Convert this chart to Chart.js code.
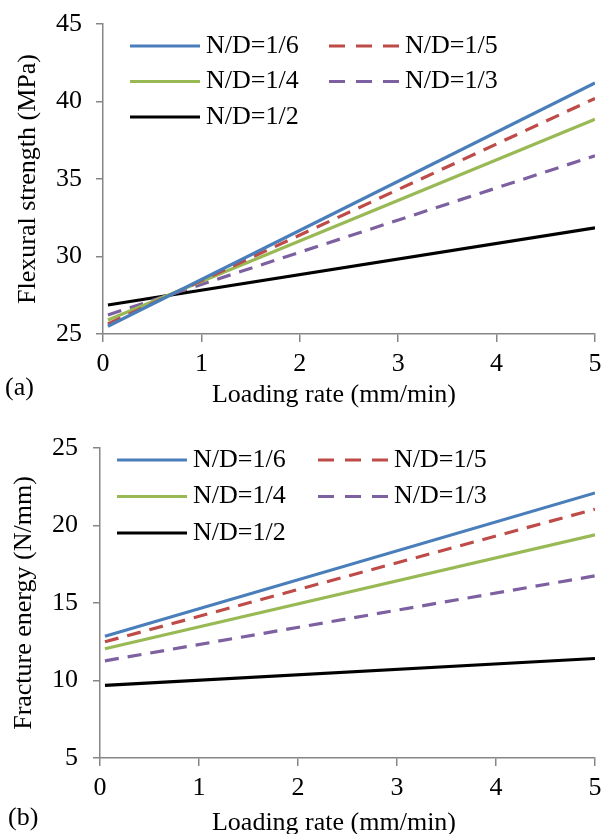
<!DOCTYPE html>
<html>
<head>
<meta charset="utf-8">
<script src="https://cdn.jsdelivr.net/npm/chart.js@4.4.1/dist/chart.umd.min.js"></script>
<style>
  body { margin: 0; background: #fff; width: 601px; height: 834px; overflow: hidden; position: relative; }
  .panel { position: absolute; left: 0; width: 601px; height: 425px; }
</style>
</head>
<body>
<div class="panel" style="top:0"><canvas id="chartA" width="601" height="425"></canvas></div>
<div class="panel" style="top:425px"><canvas id="chartB" width="601" height="425"></canvas></div>
<script>
// datos (rectas de ajuste, inicio y fin)
const loadingRate = [0.05, 5];
const seriesNames = ['N/D=1/6', 'N/D=1/5', 'N/D=1/4', 'N/D=1/3', 'N/D=1/2'];

// (a) resistencia a flexion, MPa
const strength16 = [25.5, 41.2];
const strength15 = [25.65, 40.2];
const strength14 = [25.9, 38.85];
const strength13 = [26.23, 36.5];
const strength12 = [26.87, 31.85];

// (b) energia de fractura, N/mm
const energy16 = [12.85, 22.1];
const energy15 = [12.5, 21.05];
const energy14 = [12.05, 19.4];
const energy13 = [11.27, 16.75];
const energy12 = [9.68, 11.42];

const xTicks = [0, 1, 2, 3, 4, 5];
const xTitulo = 'Loading rate (mm/min)';

const colores = ['#4A7EBB', '#BE4B48', '#98B954', '#7D60A0', '#000000'];
const dashed = [false, true, false, true, false];
const fuente = '"Liberation Serif", "Times New Roman", serif';
const gris = '#868686';

Chart.defaults.font.family = fuente;
Chart.defaults.color = '#000';

function armarDatasets(valores) {
  return valores.map((serie, i) => ({
    label: seriesNames[i],
    data: loadingRate.map((x, j) => ({ x: x, y: serie[j] })),
    borderColor: colores[i],
    borderWidth: 3.2,
    borderDash: dashed[i] ? [14, 9] : [],
    pointRadius: 0,
    tension: 0,
    fill: false
  }));
}

// leyenda dentro del area, titulo del eje x y etiqueta (a)/(b)
const leyendaPlugin = {
  id: 'ndLegend',
  afterDraw(chart, args, opts) {
    const ctx = chart.ctx;
    ctx.save();
    ctx.font = '26px ' + fuente;
    ctx.textBaseline = 'middle';
    ctx.fillStyle = '#000';
    chart.data.datasets.forEach((ds, i) => {
      const col = i % 2;
      const row = Math.floor(i / 2);
      const x0 = opts.cols[col];
      const y = opts.top + row * opts.gap;
      ctx.strokeStyle = ds.borderColor;
      ctx.lineWidth = ds.borderWidth;
      ctx.setLineDash(ds.borderDash.length ? [16, 11] : []);
      ctx.beginPath();
      ctx.moveTo(x0, y);
      ctx.lineTo(x0 + 70, y);
      ctx.stroke();
      ctx.setLineDash([]);
      ctx.textAlign = 'left';
      ctx.fillText(ds.label, x0 + 76, y);
    });
    ctx.fillText(opts.tag, opts.tagX, opts.tagY);
    ctx.textAlign = 'center';
    ctx.fillText(xTitulo, opts.titleX, opts.titleY);
    ctx.restore();
  }
};

function crearGrafica(id, valores, yMin, yMax, yTitulo, area, leyenda) {
  return new Chart(document.getElementById(id), {
    type: 'line',
    data: { datasets: armarDatasets(valores) },
    plugins: [leyendaPlugin],
    options: {
      responsive: false,
      animation: false,
      layout: { padding: { top: area.top, right: 601 - area.right, left: 0, bottom: 0 } },
      plugins: {
        legend: { display: false },
        tooltip: { enabled: false },
        ndLegend: leyenda
      },
      scales: {
        x: {
          type: 'linear',
          min: 0,
          max: 5,
          afterBuildTicks: (s) => { s.ticks = xTicks.map(v => ({ value: v })); },
          afterFit: (s) => { s.height = 425 - area.bottom; s.paddingLeft = 0; s.paddingRight = 0; },
          grid: { drawOnChartArea: false, drawTicks: true, tickLength: 8, color: gris, lineWidth: 1.5 },
          border: { color: gris, width: 1.5 },
          ticks: { font: { size: 26 }, padding: 7, color: '#000' }
        },
        y: {
          min: yMin,
          max: yMax,
          ticks: { stepSize: 5, font: { size: 26 }, padding: area.tickPad, color: '#000' },
          afterFit: (s) => { s.width = area.left; s.paddingTop = 0; s.paddingBottom = 0; },
          grid: { drawOnChartArea: false, drawTicks: true, tickLength: 7, color: gris, lineWidth: 1.5 },
          border: { color: gris, width: 1.5 },
          title: { display: true, text: yTitulo, font: { size: 26 }, padding: { top: area.titlePad, bottom: 0 }, color: '#000' }
        }
      }
    }
  });
}

crearGrafica('chartA',
  [strength16, strength15, strength14, strength13, strength12],
  25, 45, 'Flexural strength (MPa)',
  { top: 24, bottom: 334, left: 103, right: 595, tickPad: 14, titlePad: 13 },
  { cols: [130, 329], top: 46, gap: 35.5, tag: '(a)', tagX: 5, tagY: 388, titleX: 334, titleY: 395 });

crearGrafica('chartB',
  [energy16, energy15, energy14, energy13, energy12],
  5, 25, 'Fracture energy (N/mm)',
  { top: 23, bottom: 333, left: 100, right: 595, tickPad: 15, titlePad: 9 },
  { cols: [117, 318], top: 35, gap: 36.5, tag: '(b)', tagX: 8, tagY: 393, titleX: 334, titleY: 398 });
</script>
</body>
</html>
